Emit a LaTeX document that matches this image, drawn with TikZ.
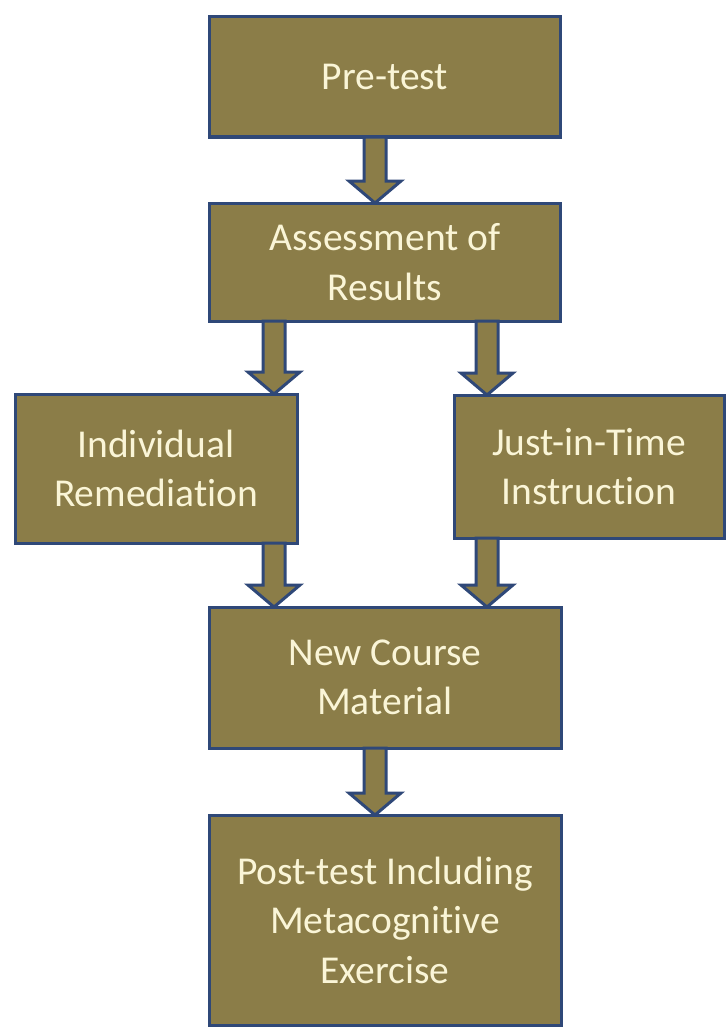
\documentclass[tikz,border=0pt]{standalone}
\usepackage{fontspec}
\setmainfont{Carlito}[Ligatures=NoCommon]
\usetikzlibrary{calc}
\definecolor{boxfill}{RGB}{139,125,72}
\definecolor{boxline}{RGB}{47,72,120}
\definecolor{boxtext}{RGB}{250,245,215}
\newcommand{\blockarrowdraw}[2]{%
  \filldraw[barrow] ($(#1)+(-11,0)$) -- ($(#1)+(11,0)$) -- ($(#2)+(11,-22)$) -- ($(#2)+(26,-22)$) -- (#2) -- ($(#2)+(-26,-22)$) -- ($(#2)+(-11,-22)$) -- cycle;}
\begin{document}
\begin{tikzpicture}[x=1pt,y=-1pt,
  box/.style={draw=boxline, fill=boxfill, line width=3pt, text=boxtext, align=center,
    font=\fontsize{39.5}{49.5}\selectfont, inner sep=0pt, outer sep=0pt},
  barrow/.style={draw=boxline, fill=boxfill, line width=3pt, line join=miter}]
\useasboundingbox (0,0) rectangle (726,1030);
\node[box, minimum width=351, minimum height=120] (pre) at (385,77) {Pre-test};
\node[box, minimum width=351, minimum height=118] (asm) at (385,262) {Assessment of\\Results};
\node[box, minimum width=282, minimum height=149] (ind) at (156,468.5) {Individual\\Remediation};
\node[box, minimum width=270, minimum height=143] (jit) at (589,466.5) {Just-in-Time\\Instruction};
\node[box, minimum width=352, minimum height=141] (ncm) at (385,677.5) {New Course\\Material};
\node[box, minimum width=352, minimum height=210] (post) at (385,920) {Post-test Including\\Metacognitive\\Exercise};
\coordinate (xc) at (375,0);
\coordinate (xl) at (274,0);
\coordinate (xr) at (487,0);
\coordinate (a1t) at (pre.south -| xc);
\coordinate (a1b) at (asm.north -| xc);
\coordinate (a2t) at (asm.south -| xl);
\coordinate (a2b) at (ind.north -| xl);
\coordinate (a3t) at (asm.south -| xr);
\coordinate (a3b) at (jit.north -| xr);
\coordinate (a4t) at (ind.south -| xl);
\coordinate (a4b) at (ncm.north -| xl);
\coordinate (a5t) at (jit.south -| xr);
\coordinate (a5b) at (ncm.north -| xr);
\coordinate (a6t) at (ncm.south -| xc);
\coordinate (a6b) at (post.north -| xc);
\blockarrowdraw{a1t}{a1b}
\blockarrowdraw{a2t}{a2b}
\blockarrowdraw{a3t}{a3b}
\blockarrowdraw{a4t}{a4b}
\blockarrowdraw{a5t}{a5b}
\blockarrowdraw{a6t}{a6b}
\end{tikzpicture}
\end{document}
